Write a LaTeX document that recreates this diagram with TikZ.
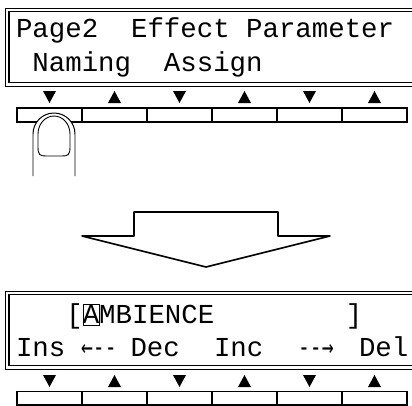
\documentclass[tikz,border=0pt]{standalone}
\usepackage{fontspec}
\newfontfamily\lcd{Liberation Mono}
\newfontfamily\lcdarrow[FakeStretch=0.72]{DejaVu Sans Mono}
\begin{document}
\begin{tikzpicture}[x=1bp,y=-1bp,
  lcdtext/.style={anchor=base west, inner sep=0pt, outer sep=0pt, font=\lcd\fontsize{27.5}{30}\selectfont},
  arrtext/.style={anchor=base west, inner sep=0pt, outer sep=0pt, font=\lcdarrow\fontsize{27.5}{30}\selectfont},
  btn/.style={draw, line width=1.1pt, minimum width=65bp, inner sep=0pt, outer sep=0pt},
  tri/.style={fill=black},
  frameouter/.style={draw, line width=0.9pt},
  frameinner/.style={draw, line width=1.3pt},
  cursorbox/.style={draw, line width=0.9pt, minimum width=16bp, minimum height=21bp, inner sep=0pt},
  bigarrow/.style={draw, line width=1.6pt, line join=round, fill=white},
  fingerline/.style={draw, line width=1pt, fill=white}]
\useasboundingbox (0,0) rectangle (412,406);
\fill[white] (0,0) rectangle (412,406);
\clip (0,0) rectangle (412,406);

% ---------- top display ----------
\draw[frameouter] (420,8) -- (5,8) -- (5,86) -- (420,86);
\draw[frameinner] (420,11.5) -- (9,11.5) -- (9,82.5) -- (420,82.5);
\node[lcdtext] (top1) at (16,37) {Page2~~Effect~Parameter};
\node[lcdtext] (top2) at (16,71) {~Naming~~Assign};

% triangles (top)
\foreach \i in {0,2,4} \fill[tri] ({49.5+65*\i-6.5},91) -- ({49.5+65*\i+6.5},91) -- ({49.5+65*\i},103) -- cycle;
\foreach \i in {1,3,5} \fill[tri] ({49.5+65*\i-6.5},103) -- ({49.5+65*\i+6.5},103) -- ({49.5+65*\i},91) -- cycle;

% buttons (top)
\foreach \i in {0,...,5} \node[btn, minimum height=14bp] (tb\i) at ({49.5+65*\i},115) {};

% finger
\path[fingerline] (33,176) -- (33,134) arc[start angle=180, end angle=0, radius=21bp] -- (75,176);
\draw[line width=0.9pt] (38,147) -- (38,134) arc[start angle=180, end angle=0, x radius=16bp, y radius=18bp]
  -- (70,147) .. controls (70,155) and (68,156) .. (62,156) -- (46,156) .. controls (40,156) and (38,155) .. (38,147) -- cycle;

% ---------- big arrow ----------
\path[bigarrow] (82,236) -- (134,236) -- (134,212) -- (278,212) -- (278,236) -- (330,236) -- (206,267) -- cycle;

% ---------- bottom display ----------
\draw[frameouter] (420,291) -- (5,291) -- (5,369) -- (420,369);
\draw[frameinner] (420,294.5) -- (9,294.5) -- (9,365.5) -- (420,365.5);
\node[lcdtext] (bot1) at (17,323) {~~~[AMBIENCE~~~~~~~~]};
\node[cursorbox] (cur) at (91.5,314.5) {};
\node[lcdtext] (ins) at (16,356) {Ins};
\node[arrtext] (larr) at (81,356) {←--};
\node[lcdtext] (dec) at (130.5,356) {Dec};
\node[lcdtext] (inc) at (214,356) {Inc};
\node[arrtext] (rarr) at (298,356) {--→};
\node[lcdtext] (del) at (359,356) {Del};

% triangles (bottom)
\foreach \i in {0,2,4} \fill[tri] ({49.5+65*\i-6.5},375) -- ({49.5+65*\i+6.5},375) -- ({49.5+65*\i},387) -- cycle;
\foreach \i in {1,3,5} \fill[tri] ({49.5+65*\i-6.5},387) -- ({49.5+65*\i+6.5},387) -- ({49.5+65*\i},375) -- cycle;

% buttons (bottom)
\foreach \i in {0,...,5} \node[btn, minimum height=13.5bp] (bb\i) at ({49.5+65*\i},398.25) {};
\end{tikzpicture}
\end{document}
